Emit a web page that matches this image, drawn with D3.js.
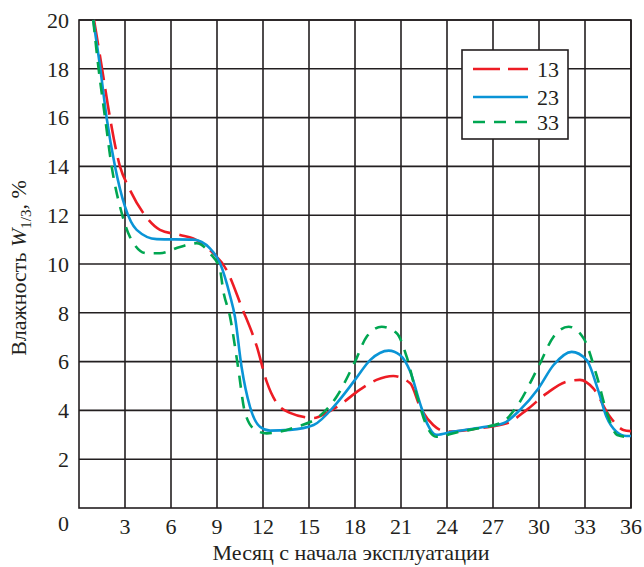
<!DOCTYPE html>
<html>
<head>
<meta charset="utf-8">
<script src="https://cdn.jsdelivr.net/npm/d3@7"></script>
<style>
  body { margin: 0; background: #fff; }
  svg text { fill: #231f20; }
</style>
</head>
<body>
<div id="chart"></div>
<script>
// values: month since start, humidity W1/3 (%)
var months13 = [0.98,1.48,2.02,2.67,3.22,4.2,5.28,6.59,7.45,8.54,9.63,10.6,11.6,12.24,12.9,13.76,15.3,16.15,17.0,18.3,19.4,20.5,21.6,22.24,23.1,24.0,26.2,27.9,29.2,30.5,31.8,32.67,33.54,34.63,35.5,36]
var w13 = [20,18.1,16,14,13.17,12.08,11.4,11.19,11.05,10.57,9.75,8.25,6.61,5.18,4.3,3.9,3.69,3.9,4.22,4.84,5.25,5.41,5.11,4.15,3.4,3.13,3.28,3.47,4.02,4.7,5.18,5.25,4.9,3.74,3.2,3.15]

var months23 = [0.93,1.37,1.8,2.35,3.0,3.76,5.07,7.45,8.54,9.2,9.85,10.17,10.6,11.15,11.8,12.46,13.76,15.3,16.8,18.0,19.0,20.2,20.93,21.6,22.24,22.7,23.3,24.4,26.2,27.67,28.76,29.96,30.95,32.13,33.1,33.85,34.4,35.05,35.7,36]
var w23 = [20,18.1,16,14,12.35,11.4,11.02,11.0,10.64,10.03,8.7,7.84,5.79,4.15,3.33,3.17,3.2,3.4,4.29,5.25,6.07,6.45,6.27,5.59,4.29,3.47,3.0,3.13,3.3,3.47,4.02,4.9,5.86,6.4,6.07,4.84,3.74,3.13,2.95,2.95]

var months33 = [0.93,1.26,1.7,2.13,2.78,3.33,4.41,5.28,6.59,7.67,8.54,9.2,9.4,9.85,10.37,10.83,11.5,12.24,14.2,15.65,16.8,18.0,18.76,19.74,20.72,21.37,22.0,22.7,23.3,24.85,26.2,27.67,28.54,29.96,30.95,31.93,32.91,33.78,34.44,35.1,35.7,36]
var w33 = [20,18.1,16,14,12.1,11.1,10.44,10.44,10.7,10.85,10.44,9.75,8.93,7.84,5.79,3.9,3.2,3.06,3.33,3.74,4.56,6.0,7.02,7.43,7.16,6.2,4.7,3.33,2.92,3.13,3.28,3.54,4.15,5.79,7.02,7.43,6.95,5.38,3.88,2.99,2.92,2.95]

var xTicks = [3,6,9,12,15,18,21,24,27,30,33,36]
var yTicks = [2,4,6,8,10,12,14,16,18,20]
var seriesNames = ["13","23","33"]

var serif = "Liberation Serif, Tinos, Noto Serif, DejaVu Serif, FreeSerif, serif";

var margin = {top: 20, right: 13, bottom: 59, left: 79},
    width = 644 - margin.left - margin.right,
    height = 567 - margin.top - margin.bottom;

var svg = d3.select("#chart")
  .append("svg")
    .attr("width", 644)
    .attr("height", 567)
    .style("font-family", serif)
var g = svg.append("g")
    .attr("transform", "translate(" + margin.left + "," + margin.top + ")");

var x = d3.scaleLinear().domain([0, 36]).range([0, width]);
var y = d3.scaleLinear().domain([0, 20]).range([height, 0]);

// grid
g.append("g")
  .selectAll("line")
  .data(xTicks)
  .enter().append("line")
    .attr("x1", function(d){ return x(d); })
    .attr("x2", function(d){ return x(d); })
    .attr("y1", 0).attr("y2", height)
    .attr("stroke", "#231f20").attr("stroke-width", 1.6);
g.append("g")
  .selectAll("line")
  .data(yTicks)
  .enter().append("line")
    .attr("y1", function(d){ return y(d); })
    .attr("y2", function(d){ return y(d); })
    .attr("x1", 0).attr("x2", width)
    .attr("stroke", "#231f20").attr("stroke-width", 1.6);
g.append("rect")
  .attr("width", width).attr("height", height)
  .attr("fill", "none").attr("stroke", "#231f20").attr("stroke-width", 1.6);

// tick labels
g.append("g")
  .selectAll("text")
  .data(yTicks)
  .enter().append("text")
    .attr("x", -10)
    .attr("y", function(d){ return y(d); })
    .attr("dy", "0.35em")
    .attr("text-anchor", "end")
    .attr("font-size", 22)
    .text(function(d){ return d; });
g.append("text")
  .attr("x", -10).attr("y", height + 23)
  .attr("text-anchor", "end").attr("font-size", 22)
  .text("0");
g.append("g")
  .selectAll("text")
  .data(xTicks)
  .enter().append("text")
    .attr("x", function(d){ return x(d); })
    .attr("y", height + 26)
    .attr("text-anchor", "middle")
    .attr("font-size", 22)
    .text(function(d){ return d; });

// axis titles
svg.append("text")
  .attr("x", 351).attr("y", 560)
  .attr("text-anchor", "middle").attr("font-size", 22)
  .text("Месяц с начала эксплуатации");

var yl = svg.append("text")
  .attr("transform", "translate(26,268) rotate(-90)")
  .attr("text-anchor", "middle").attr("font-size", 22);
yl.append("tspan").text("Влажность ");
yl.append("tspan").attr("font-style", "italic").text("W");
yl.append("tspan").attr("font-size", 15).attr("dy", 5).text("1/3");
yl.append("tspan").attr("dy", -5).text(", %");

// curves
var series = [
  {name: seriesNames[0], m: months13, w: w13, color: "#ed1c24", dash: "26,9"},
  {name: seriesNames[1], m: months23, w: w23, color: "#0a94d6", dash: null},
  {name: seriesNames[2], m: months33, w: w33, color: "#00a651", dash: "12,9"}
];

var line = d3.line()
  .x(function(d){ return x(d[0]); })
  .y(function(d){ return y(d[1]); })
  .curve(d3.curveMonotoneX);

g.append("g")
  .selectAll("path")
  .data(series)
  .enter().append("path")
    .attr("d", function(s){ return line(d3.zip(s.m, s.w)); })
    .attr("fill", "none")
    .attr("stroke", function(s){ return s.color; })
    .attr("stroke-width", 2.6)
    .attr("stroke-dasharray", function(s){ return s.dash; });

// legend
var legend = svg.append("g").attr("transform", "translate(462,50)");
legend.append("rect")
  .attr("width", 106).attr("height", 89)
  .attr("fill", "#fff").attr("stroke", "#231f20").attr("stroke-width", 1.6);
var rows = legend.selectAll("g.row")
  .data(series)
  .enter().append("g")
    .attr("class", "row")
    .attr("transform", function(d, i){ return "translate(0," + [19, 47, 72][i] + ")"; });
rows.append("line")
  .attr("x1", 11).attr("x2", 66)
  .attr("stroke", function(d){ return d.color; })
  .attr("stroke-width", 2.6)
  .attr("stroke-dasharray", function(d){ return d.name == "13" ? "27,8" : d.name == "33" ? "12,9" : null; });
rows.append("text")
  .attr("x", 75).attr("dy", "0.35em")
  .attr("font-size", 22)
  .text(function(d){ return d.name; });
</script>
</body>
</html>
